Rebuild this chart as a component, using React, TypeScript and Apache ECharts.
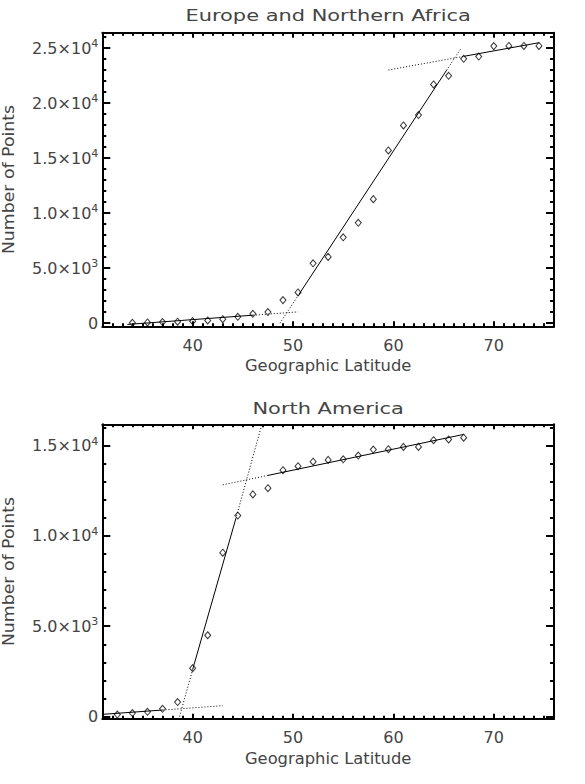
import React, { useEffect, useRef } from "react";
import * as echarts from "echarts";

// ---------- data ----------
const latEurope = [34, 35.5, 37, 38.5, 40, 41.5, 43, 44.5, 46, 47.5, 49, 50.5, 52, 53.5, 55, 56.5, 58, 59.5, 61, 62.5, 64, 65.5, 67, 68.5, 70, 71.5, 73, 74.5];
const countEurope = [30, 60, 100, 130, 180, 240, 360, 570, 850, 1000, 2090, 2790, 5440, 6020, 7800, 9120, 11270, 15700, 17970, 18910, 21700, 22480, 24030, 24230, 25180, 25200, 25200, 25200];

const latNA = [32.5, 34, 35.5, 37, 38.5, 40, 41.5, 43, 44.5, 46, 47.5, 49, 50.5, 52, 53.5, 55, 56.5, 58, 59.5, 61, 62.5, 64, 65.5, 67];
const countNA = [110, 190, 260, 430, 800, 2680, 4500, 9070, 11130, 12300, 12640, 13640, 13860, 14110, 14210, 14240, 14450, 14780, 14800, 14930, 14930, 15300, 15340, 15440];

// fitted line segments [lat, count]
const fitEuropeLowSolid = [[33.5, -120], [46, 720]];
const fitEuropeLowDot = [[46, 720], [50.5, 1020]];
const fitEuropeMidDotLow = [[48.7, -10], [50.6, 2630]];
const fitEuropeMidSolid = [[50.6, 2630], [65.3, 22990]];
const fitEuropeMidDotHigh = [[65.3, 22990], [66.75, 24990]];
const fitEuropeHighDot = [[59.5, 23010], [67, 24250]];
const fitEuropeHighSolid = [[67, 24250], [74.5, 25490]];

const fitNALowSolid = [[31, 120], [37, 360]];
const fitNALowDot = [[37, 360], [43, 600]];
const fitNAMidDotLow = [[38.7, 0], [40, 2600]];
const fitNAMidSolid = [[40, 2600], [44.3, 10950]];
const fitNAMidDotHigh = [[44.3, 10950], [46.9, 16180]];
const fitNAHighDot = [[43, 12830], [47.5, 13350]];
const fitNAHighSolid = [[47.5, 13350], [67, 15620]];

// ticks
const xMajorTicks = [40, 50, 60, 70];
const xMinorTicks = Array.from({ length: 44 }, (_, i) => 32 + i);
const yMajorEurope = [0, 5000, 10000, 15000, 20000, 25000];
const yMinorEurope = Array.from({ length: 27 }, (_, i) => i * 1000);
const yMajorNA = [0, 5000, 10000, 15000];
const yMinorNA = Array.from({ length: 17 }, (_, i) => i * 1000);

const titles = ["Europe and Northern Africa", "North America"];
const xName = "Geographic Latitude";
const yName = "Number of Points";

// ---------- styling ----------
const FONT = "DejaVu Sans";
const TXT = "#444";
const GRID_LEFT = 102.3;
const GRID_W = 451.7;
const CX = GRID_LEFT + GRID_W / 2;
const grids = [
  { top: 32.7, height: 293.6, ymin: -290, ymax: 26400, titleY: 15.5, xNameY: 366.2 },
  { top: 424.3, height: 294.4, ymin: -120, ymax: 16180, titleY: 408.5, xNameY: 758.5 },
];

function fmtY(v: number): string {
  if (v === 0) return "{b|0}";
  const e = Math.floor(Math.log10(v) + 1e-9);
  const m = (v / Math.pow(10, e)).toFixed(1);
  return `{b|${m}×10}{s|${e}}`;
}

const tickStyle = { color: "#000", width: 2 };

function xAxes(g: number) {
  const base = { type: "value", gridIndex: g, min: 31, max: 76, splitLine: { show: false } };
  const line = { show: true, onZero: false, lineStyle: { color: "#000", width: 2 } };
  const noLine = { show: false, onZero: false };
  return [
    {
      ...base,
      position: "bottom",
      axisLine: line,
      axisTick: { show: true, inside: true, length: 5, customValues: xMajorTicks, lineStyle: tickStyle },
      axisLabel: { show: true, customValues: xMajorTicks, margin: 11, fontSize: 16, fontFamily: FONT, color: TXT },
    },
    {
      ...base,
      position: "top",
      axisLine: line,
      axisTick: { show: true, inside: true, length: 5, customValues: xMajorTicks, lineStyle: tickStyle },
      axisLabel: { show: false },
    },
    {
      ...base,
      position: "bottom",
      axisLine: noLine,
      axisTick: { show: true, inside: true, length: 3, customValues: xMinorTicks, lineStyle: tickStyle },
      axisLabel: { show: false },
    },
    {
      ...base,
      position: "top",
      axisLine: noLine,
      axisTick: { show: true, inside: true, length: 3, customValues: xMinorTicks, lineStyle: tickStyle },
      axisLabel: { show: false },
    },
  ];
}

function yAxes(g: number, major: number[], minor: number[]) {
  const base = { type: "value", gridIndex: g, min: grids[g].ymin, max: grids[g].ymax, splitLine: { show: false } };
  const line = { show: true, onZero: false, lineStyle: { color: "#000", width: 2 } };
  const noLine = { show: false, onZero: false };
  return [
    {
      ...base,
      position: "left",
      axisLine: line,
      axisTick: { show: true, inside: true, length: 8, customValues: major, lineStyle: tickStyle },
      axisLabel: {
        show: true,
        customValues: major,
        margin: 4,
        formatter: (v: number) => fmtY(v),
        rich: {
          b: { fontSize: 16, fontFamily: FONT, color: TXT, lineHeight: 20 },
          s: { fontSize: 11, fontFamily: FONT, color: TXT, verticalAlign: "top", lineHeight: 10 },
        },
      },
    },
    {
      ...base,
      position: "right",
      axisLine: line,
      axisTick: { show: true, inside: true, length: 8, customValues: major, lineStyle: tickStyle },
      axisLabel: { show: false },
    },
    {
      ...base,
      position: "left",
      axisLine: noLine,
      axisTick: { show: true, inside: true, length: 4, customValues: minor, lineStyle: tickStyle },
      axisLabel: { show: false },
    },
    {
      ...base,
      position: "right",
      axisLine: noLine,
      axisTick: { show: true, inside: true, length: 4, customValues: minor, lineStyle: tickStyle },
      axisLabel: { show: false },
    },
  ];
}

function scatter(axisIdx: number, lat: number[], cnt: number[]) {
  return {
    type: "scatter",
    xAxisIndex: axisIdx,
    yAxisIndex: axisIdx,
    data: lat.map((x, i) => [x, cnt[i]]),
    symbol: "diamond",
    symbolSize: [6, 7],
    itemStyle: { color: "rgba(0,0,0,0)", borderColor: "#000", borderWidth: 1 },
    z: 4,
    silent: true,
  };
}

function fit(axisIdx: number, pts: number[][], dotted: boolean) {
  return {
    type: "line",
    xAxisIndex: axisIdx,
    yAxisIndex: axisIdx,
    data: pts,
    showSymbol: false,
    symbol: "none",
    silent: true,
    z: 3,
    lineStyle: { color: "#000", width: 1, type: dotted ? [1, 2] : "solid" },
  };
}

const textGraphics = grids.flatMap((g, i) => [
  {
    type: "text",
    x: CX,
    y: g.titleY,
    scaleX: 1.35,
    style: { text: titles[i], fontSize: 15.5, fontFamily: FONT, fill: TXT, align: "center", verticalAlign: "middle" },
  },
  {
    type: "text",
    x: CX,
    y: g.xNameY,
    scaleX: 1.09,
    style: { text: xName, fontSize: 15, fontFamily: FONT, fill: TXT, align: "center", verticalAlign: "middle" },
  },
  {
    type: "text",
    x: 9.2,
    y: g.top + g.height / 2,
    rotation: Math.PI / 2,
    scaleX: 1.155,
    style: { text: yName, fontSize: 15, fontFamily: FONT, fill: TXT, align: "center", verticalAlign: "middle" },
  },
]);

const option = {
  animation: false,
  backgroundColor: "#fff",
  grid: grids.map((g) => ({ left: GRID_LEFT, top: g.top, width: GRID_W, height: g.height, containLabel: false })),
  xAxis: [...xAxes(0), ...xAxes(1)],
  yAxis: [...yAxes(0, yMajorEurope, yMinorEurope), ...yAxes(1, yMajorNA, yMinorNA)],
  graphic: textGraphics,
  series: [
    fit(0, fitEuropeLowSolid, false),
    fit(0, fitEuropeLowDot, true),
    fit(0, fitEuropeMidDotLow, true),
    fit(0, fitEuropeMidSolid, false),
    fit(0, fitEuropeMidDotHigh, true),
    fit(0, fitEuropeHighDot, true),
    fit(0, fitEuropeHighSolid, false),
    scatter(0, latEurope, countEurope),
    fit(4, fitNALowSolid, false),
    fit(4, fitNALowDot, true),
    fit(4, fitNAMidDotLow, true),
    fit(4, fitNAMidSolid, false),
    fit(4, fitNAMidDotHigh, true),
    fit(4, fitNAHighDot, true),
    fit(4, fitNAHighSolid, false),
    scatter(4, latNA, countNA),
  ],
};

export default function App() {
  const ref = useRef<HTMLDivElement>(null);
  useEffect(() => {
    if (!ref.current) return;
    const chart = echarts.init(ref.current, null, { renderer: "svg" });
    chart.setOption(option as any);
    return () => chart.dispose();
  }, []);
  return (
    <div
      ref={ref}
      style={{ position: "absolute", left: 0, top: 0, width: 585, height: 784, background: "#fff" }}
    />
  );
}
